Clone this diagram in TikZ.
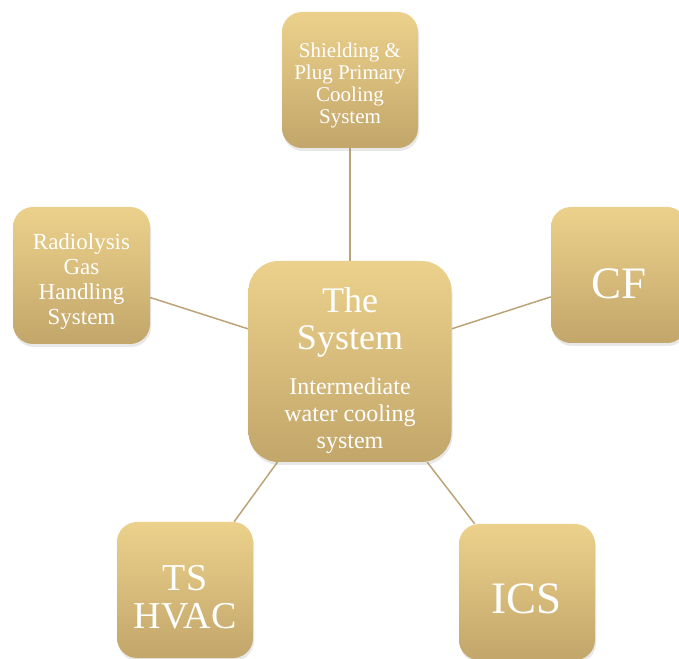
\documentclass[tikz,border=0pt]{standalone}
\usepackage{fontspec}
\setmainfont{Liberation Serif}
\usetikzlibrary{shadows,backgrounds}
\definecolor{goldtop}{RGB}{236,209,140}
\definecolor{goldbot}{RGB}{194,166,106}
\definecolor{linktan}{RGB}{188,164,120}

\begin{document}
\begin{tikzpicture}[x=1pt, y=1pt,
    box/.style={rectangle, rounded corners=20pt, top color=goldtop, bottom color=goldbot,
        text=white, align=center, inner sep=2pt, minimum width=136pt, minimum height=136pt,
        drop shadow={opacity=0.18, shadow xshift=1pt, shadow yshift=-3pt}},
    link/.style={draw=linktan, line width=1.5pt}]
        \useasboundingbox (0, 0) rectangle (679, 658);
        % Boxes (the 0pt rules push the text a little below the middle)
        \node (c0) at (350, 296.5) [box, minimum width=203pt, minimum height=201pt, rounded corners=30pt,
            font=\fontsize{24}{27}\selectfont]
            {\rule{0pt}{44pt}\fontsize{36}{37}\selectfont The\\[10pt] \fontsize{36}{37}\selectfont System\\[18pt]
             Intermediate\\ water cooling\\ system};
        \node (c1) at (350, 578) [box, font=\fontsize{21}{22}\selectfont] {\rule{0pt}{26pt}Shielding \&\\ Plug Primary\\ Cooling\\ System};
        \node (c2) at (81.5, 382.5) [box, minimum width=137pt, minimum height=137pt, font=\fontsize{23}{25}\selectfont] {\rule{0pt}{27pt}Radiolysis\\ Gas\\ Handling\\ System};
        \node (c3) at (619, 383) [box, font=\fontsize{45}{46}\selectfont] {\rule{0pt}{48pt}CF};
        \node (c4) at (185, 68) [box, font=\fontsize{38}{38}\selectfont] {\rule{0pt}{39pt}TS\\ HVAC};
        \node (c5) at (527, 66) [box, font=\fontsize{45}{46}\selectfont] {\rule{0pt}{44pt}ICS};
        % Links
        \begin{scope}[on background layer]
            \draw[link] (c0) -- (c1);
            \draw[link] (c0) -- (c2);
            \draw[link] (c0) -- (c3);
            \draw[link] (c0) -- (c4);
            \draw[link] (c0) -- (c5);
        \end{scope}
    \end{tikzpicture}
\end{document}
